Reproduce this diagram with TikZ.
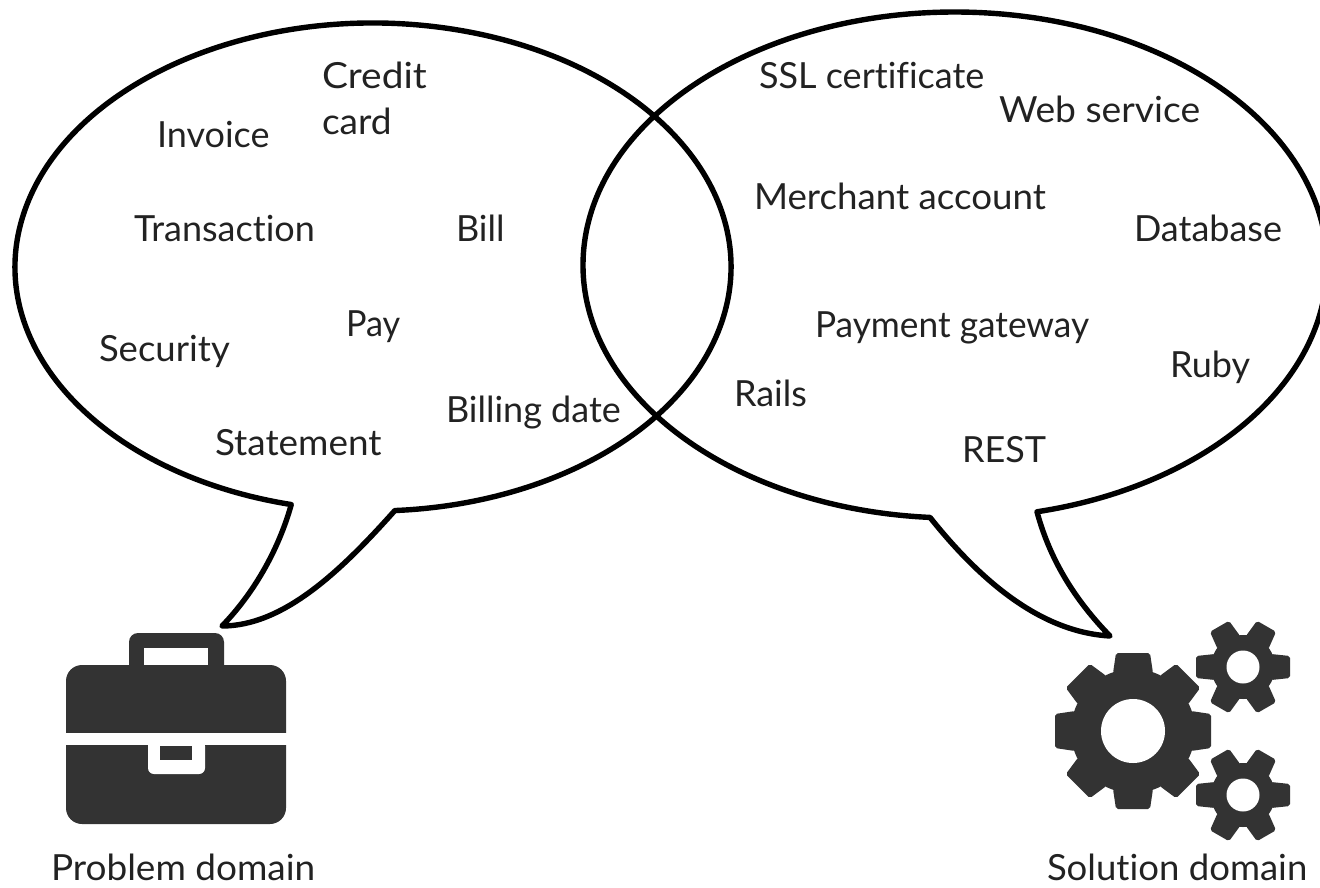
\documentclass[tikz,border=0pt]{standalone}
\usepackage{graphicx}
\usepackage{fontspec}
\setmainfont[Ligatures=NoCommon]{Lato}
\definecolor{icondark}{HTML}{333333}
\definecolor{labelink}{HTML}{222222}
\tikzset{
  bubble/.style={draw=black,line width=5.4pt,line join=round},
  lab/.style={anchor=base west,inner sep=0pt,outer sep=0pt,text=labelink,font=\fontsize{36}{40}\selectfont},
  iconfill/.style={fill=icondark},
  cutout/.style={fill=white}
}
\newcommand{\gearicon}[8]{% x y outer root hole teeth tipHalf baseHalf
  \fill[iconfill] (#1,#2) circle[radius=#4pt];
  \foreach \ang in {1,...,#6}{
    \begin{scope}[shift={(#1,#2)},rotate=\ang*360/#6]
      \fill[iconfill,rounded corners=2pt] (#4-4,-#8) -- (#3,-#7) -- (#3,#7) -- (#4-4,#8) -- cycle;
    \end{scope}
  }
  \fill[cutout] (#1,#2) circle[radius=#5pt];
}
\newcommand{\widen}[2]{\scalebox{#1}[1]{#2}}
\begin{document}
\begin{tikzpicture}[x=1pt,y=1pt,yscale=-1]
\useasboundingbox (0,0) rectangle (1320,887);
% speech bubbles
\draw[bubble] (373,267) ++(103.2:358pt and 244pt) coordinate (lstart)
  arc[start angle=103.2,end angle=446.5,x radius=358pt,y radius=244pt] coordinate (lend)
  .. controls (340,572) and (283,626) .. (222,626)
  .. controls (257,590) and (280,545) .. (lstart) -- cycle;
\draw[bubble] (955,265) ++(93.85:372pt and 253pt) coordinate (rstart)
  arc[start angle=93.85,end angle=437.27,x radius=372pt,y radius=253pt] coordinate (rend)
  .. controls (1050,560) and (1075,600) .. (1110,636)
  .. controls (1040,632) and (980,580) .. (rstart) -- cycle;
% briefcase
\fill[iconfill,rounded corners=9pt] (129,675) -- (129,633) -- (224,633) -- (224,675) -- cycle;
\fill[cutout] (144,648) rectangle (208,670);
\fill[iconfill,rounded corners=16pt] (66,665) rectangle (286,824);
\fill[cutout] (60,733) rectangle (292,745);
\fill[cutout,rounded corners=6pt] (148,740) -- (148,774) -- (205,774) -- (205,740) -- cycle;
\fill[iconfill] (160,746) rectangle (192,760);
% gears
\gearicon{1133}{731}{78}{62}{32}{8}{17}{20}
\gearicon{1243}{667}{47}{32}{16.5}{6}{11}{13}
\gearicon{1243}{795}{47}{32}{16.5}{6}{11}{13}
% labels
\node[lab] (credit) at (322,88) {\widen{1.08}{Credit}};
\node[lab] (card) at (322,134) {\widen{1.03}{card}};
\node[lab] (invoice) at (157,147) {Invoice};
\node[lab] (transaction) at (134,241) {Transaction};
\node[lab] (bill) at (456,241) {Bill};
\node[lab] (pay) at (346,336) {\widen{.95}{Pay}};
\node[lab] (security) at (99,361) {\widen{1.015}{Security}};
\node[lab] (statement) at (215,455) {\widen{1.025}{Statement}};
\node[lab] (billingdate) at (446,422) {Billing date};
\node[lab] (ssl) at (759,88) {SSL certificate};
\node[lab] (webservice) at (999,122) {\widen{1.035}{Web service}};
\node[lab] (merchant) at (754,209) {\widen{1.02}{Merchant account}};
\node[lab] (database) at (1134,241) {Database};
\node[lab] (gateway) at (815,337) {\widen{.98}{Payment gateway}};
\node[lab] (ruby) at (1170,377) {Ruby};
\node[lab] (rails) at (734,406) {Rails};
\node[lab] (rest) at (962,462) {REST};
\node[lab] (problem) at (51,880) {\widen{1.027}{Problem domain}};
\node[lab] (solution) at (1047,880) {\widen{1.015}{Solution domain}};
\end{tikzpicture}
\end{document}
